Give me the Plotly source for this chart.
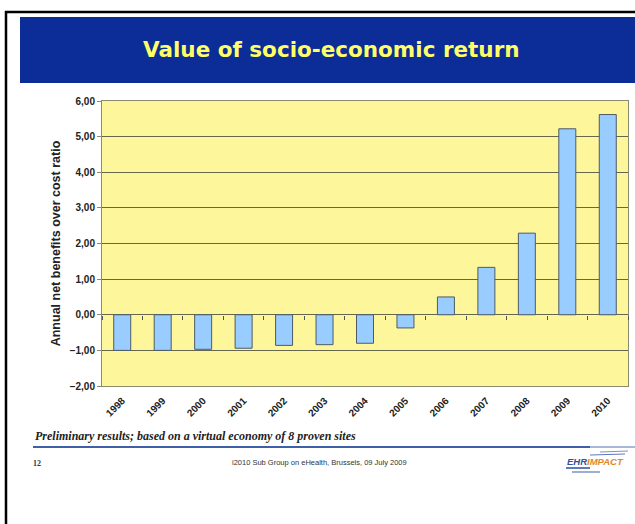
import plotly.graph_objects as go

years = ["1998", "1999", "2000", "2001", "2002", "2003", "2004",
         "2005", "2006", "2007", "2008", "2009", "2010"]
ratio = [-1.00, -1.00, -0.97, -0.94, -0.86, -0.84, -0.80,
         -0.37, 0.50, 1.33, 2.29, 5.22, 5.62]

title_text = "Value of socio-economic return"
y_title = "Annual net benefits over cost ratio"
note_text = "Preliminary results; based on a virtual economy of 8 proven sites"
footer_text = "i2010 Sub Group on eHealth, Brussels, 09 July 2009"
page_no = "12"

W, H = 635, 524
L, R, T, B = 102, 7, 101, 138
PW, PH = W - L - R, H - T - B


def px(x):
    return (x - L) / PW


def py(y):
    return 1 - (y - T) / PH


fig = go.Figure()
fig.add_trace(go.Bar(
    x=years, y=ratio, xaxis="x", yaxis="y",
    marker=dict(color="#99CCFF", line=dict(color="#4d5a66", width=1)),
    width=0.42, hoverinfo="x+y",
))
# invisible trace for the zero-line tick axis
fig.add_trace(go.Scatter(
    x=years, y=[0] * len(years), xaxis="x2", yaxis="y",
    mode="markers", marker=dict(opacity=0), hoverinfo="skip", showlegend=False,
))

shapes = [
    # slide frame
    dict(type="line", xref="paper", yref="paper", x0=px(6), x1=px(6), y0=py(11), y1=py(530),
         line=dict(color="black", width=2.5)),
    dict(type="line", xref="paper", yref="paper", x0=px(5), x1=px(640), y0=py(12), y1=py(12),
         line=dict(color="black", width=2.5)),
    # title banner
    dict(type="rect", xref="paper", yref="paper", x0=px(20), x1=px(640), y0=py(17), y1=py(83),
         fillcolor="#0c2c98", line=dict(width=0), layer="below"),
    # blue separator line
    dict(type="line", xref="paper", yref="paper", x0=px(33), x1=px(590), y0=py(447), y1=py(447),
         line=dict(color="#3f5fa8", width=2)),
    dict(type="line", xref="paper", yref="paper", x0=px(590), x1=px(640), y0=py(447), y1=py(447),
         line=dict(color="#a9b8d8", width=2)),
    # logo stripes
    dict(type="line", xref="paper", yref="paper", x0=px(600), x1=px(628), y0=py(452), y1=py(451),
         line=dict(color="#7d93c6", width=1.2)),
    dict(type="line", xref="paper", yref="paper", x0=px(590), x1=px(625), y0=py(455), y1=py(454),
         line=dict(color="#5d78b8", width=1.2)),
    dict(type="line", xref="paper", yref="paper", x0=px(566), x1=px(590), y0=py(468), y1=py(468),
         line=dict(color="#2f4f9a", width=1.5)),
    dict(type="line", xref="paper", yref="paper", x0=px(572), x1=px(600), y0=py(472), y1=py(472),
         line=dict(color="#5d78b8", width=1.2)),
]

annotations = [
    dict(text="<b>" + title_text + "</b>", xref="paper", yref="paper",
         x=px(331), y=py(50), showarrow=False, xanchor="center", yanchor="middle",
         font=dict(family="DejaVu Sans", size=21.5, color="#ffff66")),
    dict(text="<b><i>" + note_text + "</i></b>", xref="paper", yref="paper",
         x=px(33), y=py(436), showarrow=False, xanchor="left", yanchor="middle",
         font=dict(family="Liberation Serif, Times New Roman", size=12, color="#222222")),
    dict(text=footer_text, xref="paper", yref="paper",
         x=px(319), y=py(462), showarrow=False, xanchor="center", yanchor="middle",
         font=dict(family="Liberation Sans, Arial", size=7.5, color="#333333")),
    dict(text="<b>" + page_no + "</b>", xref="paper", yref="paper",
         x=px(31), y=py(463), showarrow=False, xanchor="left", yanchor="middle",
         font=dict(family="Liberation Serif", size=8, color="#333333")),
    dict(text="<b><i><span style='color:#2f4f9a'>EHR</span>"
              "<span style='color:#e08a1e'>IMPACT</span></i></b>",
         xref="paper", yref="paper", x=px(565), y=py(461), showarrow=False,
         xanchor="left", yanchor="middle",
         font=dict(family="Liberation Sans, Arial", size=9.5)),
]

tickfont = dict(family="Liberation Sans, Arial", size=10, color="#222222", weight="bold")

fig.update_layout(
    width=W, height=H,
    margin=dict(l=L, r=R, t=T, b=B, pad=0),
    paper_bgcolor="white",
    plot_bgcolor="#fef69a",
    separators=",.",
    showlegend=False,
    bargap=0.58,
    xaxis=dict(
        type="category", range=[-0.5, 12.5],
        tickangle=-45, tickfont=tickfont,
        showline=True, linecolor="#8a8a70", linewidth=1, mirror=True,
        ticks="", showgrid=False, zeroline=False, ticklabelstandoff=4,
    ),
    xaxis2=dict(
        type="category", range=[-0.5, 12.5], overlaying="x", anchor="free",
        position=py(T + 6 * PH / 8), showticklabels=False,
        ticks="outside", tickson="boundaries", ticklen=4, tickcolor="#555555",
        showgrid=False, zeroline=False, showline=False,
    ),
    yaxis=dict(
        range=[-2, 6], dtick=1, tickformat=".2f",
        tickfont=tickfont,
        showgrid=True, gridcolor="#66664a", gridwidth=1,
        zeroline=True, zerolinecolor="#66664a", zerolinewidth=1,
        showline=True, linecolor="#8a8a70", linewidth=1, mirror=True,
        ticks="outside", ticklen=4, tickcolor="#8a8a70",
        title=dict(text="<b>" + y_title + "</b>", standoff=6,
                   font=dict(family="Liberation Sans, Arial", size=12.5, color="#222222")),
    ),
    shapes=shapes,
    annotations=annotations,
)

fig.write_html(
    "out.html",
    config={"displayModeBar": False},
    post_script="document.body.style.margin='0';document.body.style.padding='0';"
                "document.body.style.overflow='hidden';",
)
